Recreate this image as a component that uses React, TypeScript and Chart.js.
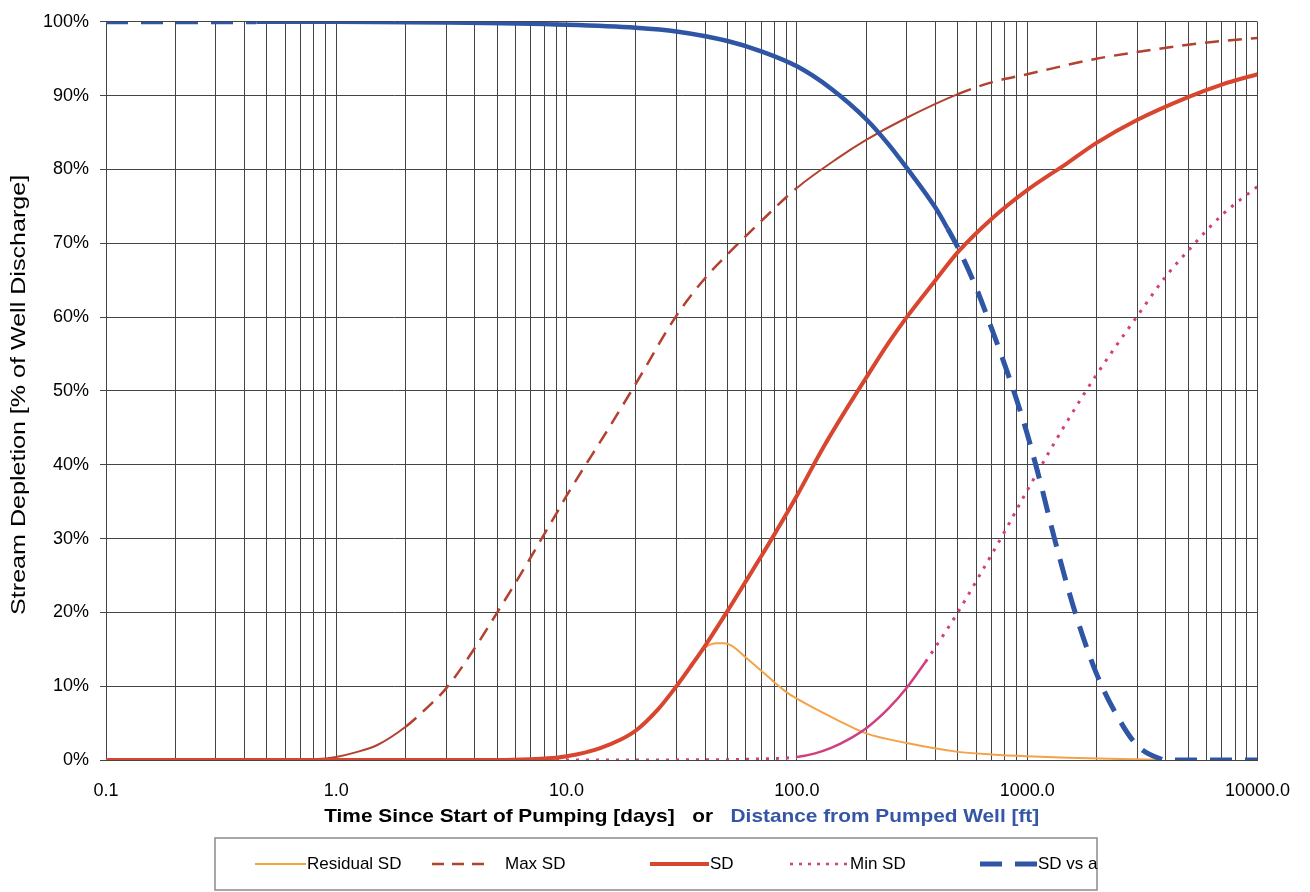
import React, { useEffect, useRef } from 'react';
import { Chart, registerables } from 'chart.js';

Chart.register(...registerables);

// ---------- Axis ticks ----------
const xTickValues = [
  0.1, 0.2, 0.3, 0.4, 0.5, 0.6, 0.7, 0.8, 0.9,
  1, 2, 3, 4, 5, 6, 7, 8, 9,
  10, 20, 30, 40, 50, 60, 70, 80, 90,
  100, 200, 300, 400, 500, 600, 700, 800, 900,
  1000, 2000, 3000, 4000, 5000, 6000, 7000, 8000, 9000,
  10000,
];
const xDecadeValues = [0.1, 1, 10, 100, 1000, 10000];
const xDecadeLabels = ['0.1', '1.0', '10.0', '100.0', '1000.0', '10000.0'];

// ---------- Series (x = days or ft, y = % of well discharge) ----------
const residualX = [0.1, 5, 7, 8, 9, 10, 12, 14, 17, 20, 25, 30, 35, 40, 45, 48, 52, 60, 70, 80, 90, 100, 150, 200, 300, 500, 700, 1000, 1500, 2500, 3800];
const residualY = [0, 0, 0.1, 0.2, 0.3, 0.5, 1.0, 1.6, 2.7, 4.0, 6.9, 10.0, 12.9, 15.2, 15.8, 15.8, 15.5, 13.9, 12.1, 10.5, 9.2, 8.3, 5.4, 3.6, 2.3, 1.1, 0.75, 0.5, 0.3, 0.15, 0.05];

const maxSdX = [0.1, 0.5, 0.7, 0.8, 0.9, 1.0, 1.2, 1.5, 2, 2.5, 3, 4, 5, 6, 7, 8, 9, 10, 15, 20, 30, 40, 50, 70, 100, 150, 200, 300, 500, 700, 1000, 2000, 3000, 5000, 7000, 10000];
const maxSdY = [0, 0, 0.05, 0.1, 0.2, 0.4, 1.0, 2.0, 4.5, 7.2, 9.7, 15.2, 20.0, 24.0, 27.5, 30.6, 33.3, 35.8, 44.6, 51.0, 60.2, 65.3, 68.5, 73.0, 77.5, 81.5, 84.0, 87.0, 90.2, 91.8, 92.9, 95.0, 95.9, 96.9, 97.4, 97.8];

const sdX = [0.1, 5, 7, 8, 9, 10, 12, 14, 17, 20, 25, 30, 35, 40, 50, 60, 70, 80, 100, 130, 166, 200, 250, 300, 400, 500, 700, 1000, 1500, 2000, 3000, 5000, 7000, 10000];
const sdY = [0, 0, 0.1, 0.2, 0.3, 0.5, 1.0, 1.6, 2.7, 4.0, 6.9, 10.0, 12.9, 15.5, 20.2, 24.2, 27.6, 30.6, 35.8, 42.3, 47.8, 51.8, 56.5, 60.0, 65.0, 68.8, 73.3, 77.2, 80.9, 83.6, 86.7, 89.8, 91.5, 92.9];

const minSdX = [0.1, 10, 50, 70, 100, 120, 140, 170, 200, 250, 300, 362, 400, 500, 600, 800, 1000, 1500, 2000, 3000, 4000, 5000, 7000, 10000];
const minSdY = [0, 0, 0.05, 0.15, 0.4, 0.9, 1.6, 2.9, 4.3, 7.0, 9.8, 13.3, 15.3, 20.0, 24.2, 31.0, 36.5, 46.0, 52.2, 60.1, 65.5, 69.0, 73.8, 77.7];

const sdVsAX = [0.1, 0.2, 0.3, 0.45, 1, 3, 10, 20, 30, 50, 70, 101, 140, 200, 250, 300, 400, 451, 508, 600, 700, 800, 900, 1000, 1150, 1309, 1597, 2000, 2455, 3000, 3840, 4000, 10000];
const sdVsAY = [100, 100, 100, 100, 100, 99.9, 99.6, 99.2, 98.7, 97.4, 96.0, 93.9, 91.0, 86.8, 83.4, 80.2, 74.8, 72.0, 69.0, 64.0, 58.5, 53.5, 48.8, 44.2, 37.2, 30.2, 20.5, 11.7, 6.0, 2.0, 0.1, 0, 0];

const seriesNames = ['Residual SD', 'Max SD', 'SD', 'Min SD', 'SD vs a'];
const yTitle = 'Stream Depletion [% of Well Discharge]';
const xTitleParts = ['Time Since Start of Pumping [days]', 'or', 'Distance from Pumped Well [ft]'];

const FONT = '"Liberation Sans", Arial, Helvetica, sans-serif';

const toPoints = (xs: number[], ys: number[]) => xs.map((x, i) => ({ x, y: ys[i] }));

const COLORS = {
  residual: '#f3a347',
  maxSd: '#b3412f',
  sd: '#d9462f',
  minSd: '#d03f7f',
  sdVsA: '#2f55a5',
  grid: '#444444',
  titleBlue: '#3556a6',
};

const extrasPlugin = {
  id: 'extras',
  afterDraw(chart: any) {
    const ctx = chart.ctx as CanvasRenderingContext2D;
    const area = chart.chartArea;
    ctx.save();

    // Y axis title (rotated, slightly stretched like the scanned original)
    ctx.save();
    ctx.font = `20px ${FONT}`;
    ctx.fillStyle = '#000';
    ctx.textAlign = 'center';
    ctx.textBaseline = 'middle';
    const yw = ctx.measureText(yTitle).width;
    const ySx = 440 / yw;
    ctx.translate(19, (area.top + area.bottom) / 2 + 4);
    ctx.rotate(-Math.PI / 2);
    ctx.scale(ySx, 1);
    ctx.fillText(yTitle, 0, 0);
    ctx.restore();

    // X axis title (two colours)
    ctx.save();
    ctx.font = `bold 19px ${FONT}`;
    ctx.textBaseline = 'middle';
    ctx.textAlign = 'left';
    const gap = 16;
    const w1 = ctx.measureText(xTitleParts[0]).width;
    const w2 = ctx.measureText(xTitleParts[1]).width;
    const w3 = ctx.measureText(xTitleParts[2]).width;
    const total = w1 + gap + w2 + gap + w3;
    const sx = 715 / total;
    const cx = (area.left + area.right) / 2;
    ctx.translate(cx - (total * sx) / 2, 817);
    ctx.scale(sx, 1);
    let x = 0;
    ctx.fillStyle = '#000';
    ctx.fillText(xTitleParts[0], x, 0);
    x += w1 + gap;
    ctx.fillText(xTitleParts[1], x, 0);
    x += w2 + gap;
    ctx.fillStyle = COLORS.titleBlue;
    ctx.fillText(xTitleParts[2], x, 0);
    ctx.restore();

    // Legend box
    ctx.strokeStyle = '#8a8a8a';
    ctx.lineWidth = 1.5;
    ctx.setLineDash([]);
    ctx.strokeRect(215, 838, 882, 52);

    const ly = 864;
    const items = [
      { name: seriesNames[0], x0: 255, x1: 306, tx: 307, color: COLORS.residual, width: 2, dash: [] as number[] },
      { name: seriesNames[1], x0: 432, x1: 492, tx: 505, color: COLORS.maxSd, width: 2.5, dash: [12, 8] },
      { name: seriesNames[2], x0: 650, x1: 709, tx: 710, color: COLORS.sd, width: 4, dash: [] as number[] },
      { name: seriesNames[3], x0: 790, x1: 847, tx: 850, color: COLORS.minSd, width: 2.5, dash: [3, 6] },
      { name: seriesNames[4], x0: 980, x1: 1037, tx: 1038, color: COLORS.sdVsA, width: 5, dash: [22, 13] },
    ];
    ctx.font = `17px ${FONT}`;
    ctx.textBaseline = 'middle';
    ctx.textAlign = 'left';
    for (const it of items) {
      ctx.beginPath();
      ctx.strokeStyle = it.color;
      ctx.lineWidth = it.width;
      ctx.setLineDash(it.dash);
      ctx.moveTo(it.x0, ly);
      ctx.lineTo(it.x1, ly);
      ctx.stroke();
      ctx.fillStyle = '#000';
      ctx.fillText(it.name, it.tx, ly);
    }
    ctx.restore();
  },
};

export default function App() {
  const canvasRef = useRef<HTMLCanvasElement | null>(null);

  useEffect(() => {
    if (!canvasRef.current) return;
    const inRange = (ctx: any, a: number, b: number) =>
      ctx.p0.parsed.x >= a - 1e-9 && ctx.p1.parsed.x <= b + 1e-9;

    const chart = new Chart(canvasRef.current, {
      type: 'line',
      data: {
        datasets: [
          {
            label: seriesNames[0],
            data: toPoints(residualX, residualY),
            borderColor: COLORS.residual,
            borderWidth: 2,
            pointRadius: 0,
            cubicInterpolationMode: 'monotone',
            order: 5,
          },
          {
            label: seriesNames[1],
            data: toPoints(maxSdX, maxSdY),
            borderColor: COLORS.maxSd,
            borderWidth: 2.5,
            borderDash: [14, 9],
            pointRadius: 0,
            cubicInterpolationMode: 'monotone',
            segment: {
              borderDash: (c: any) => (inRange(c, 0, 2) || inRange(c, 100, 500) ? [] : [14, 9]),
              borderWidth: (c: any) => (inRange(c, 0, 2) || inRange(c, 100, 500) ? 2 : 2.5),
            },
            order: 3,
          },
          {
            label: seriesNames[2],
            data: toPoints(sdX, sdY),
            borderColor: COLORS.sd,
            borderWidth: 4,
            pointRadius: 0,
            cubicInterpolationMode: 'monotone',
            order: 2,
          },
          {
            label: seriesNames[3],
            data: toPoints(minSdX, minSdY),
            borderColor: COLORS.minSd,
            borderWidth: 3,
            borderDash: [3, 7],
            pointRadius: 0,
            cubicInterpolationMode: 'monotone',
            segment: {
              borderDash: (c: any) => (inRange(c, 100, 362) ? [] : [3, 7]),
              borderWidth: (c: any) => (inRange(c, 100, 362) ? 2.5 : 3),
            },
            order: 4,
          },
          {
            label: seriesNames[4],
            data: toPoints(sdVsAX, sdVsAY),
            borderColor: COLORS.sdVsA,
            borderWidth: 5,
            borderDash: [22, 13],
            pointRadius: 0,
            cubicInterpolationMode: 'monotone',
            segment: {
              borderDash: (c: any) => (inRange(c, 0.45, 451) ? [] : [22, 13]),
              borderWidth: (c: any) => (inRange(c, 0.45, 451) ? 4.5 : 5),
            },
            order: 1,
          },
        ],
      },
      options: {
        animation: false,
        responsive: true,
        maintainAspectRatio: false,
        layout: { padding: { top: 17, right: 49, bottom: 0, left: 0 } },
        plugins: {
          legend: { display: false },
          tooltip: { enabled: false },
        },
        scales: {
          x: {
            type: 'logarithmic',
            min: 0.1,
            max: 10000,
            afterBuildTicks: (scale: any) => {
              scale.ticks = xTickValues.map((v) => ({ value: v }));
            },
            afterFit: (scale: any) => {
              scale.height = 132;
            },
            grid: { color: COLORS.grid, lineWidth: 1, drawTicks: false },
            border: { display: true, color: COLORS.grid, width: 1 },
            ticks: {
              autoSkip: false,
              maxRotation: 0,
              minRotation: 0,
              padding: 20,
              color: '#000',
              font: { family: FONT, size: 18 },
              callback: (value: any) => {
                const v = Number(value);
                const i = xDecadeValues.findIndex((d) => Math.abs(d - v) / d < 1e-6);
                return i >= 0 ? xDecadeLabels[i] : '';
              },
            },
          },
          y: {
            type: 'linear',
            min: 0,
            max: 100,
            afterFit: (scale: any) => {
              scale.width = 106;
            },
            grid: { color: COLORS.grid, lineWidth: 1, drawTicks: true, tickLength: 6 },
            border: { display: true, color: COLORS.grid, width: 1 },
            ticks: {
              stepSize: 10,
              padding: 11,
              color: '#000',
              font: { family: FONT, size: 18 },
              callback: (value: any) => `${value}%`,
            },
          },
        },
      },
      plugins: [extrasPlugin],
    });
    return () => chart.destroy();
  }, []);

  return (
    <div style={{ position: 'fixed', left: 0, top: 0, width: 1310, height: 892, background: '#fff' }}>
      <canvas ref={canvasRef} />
    </div>
  );
}
